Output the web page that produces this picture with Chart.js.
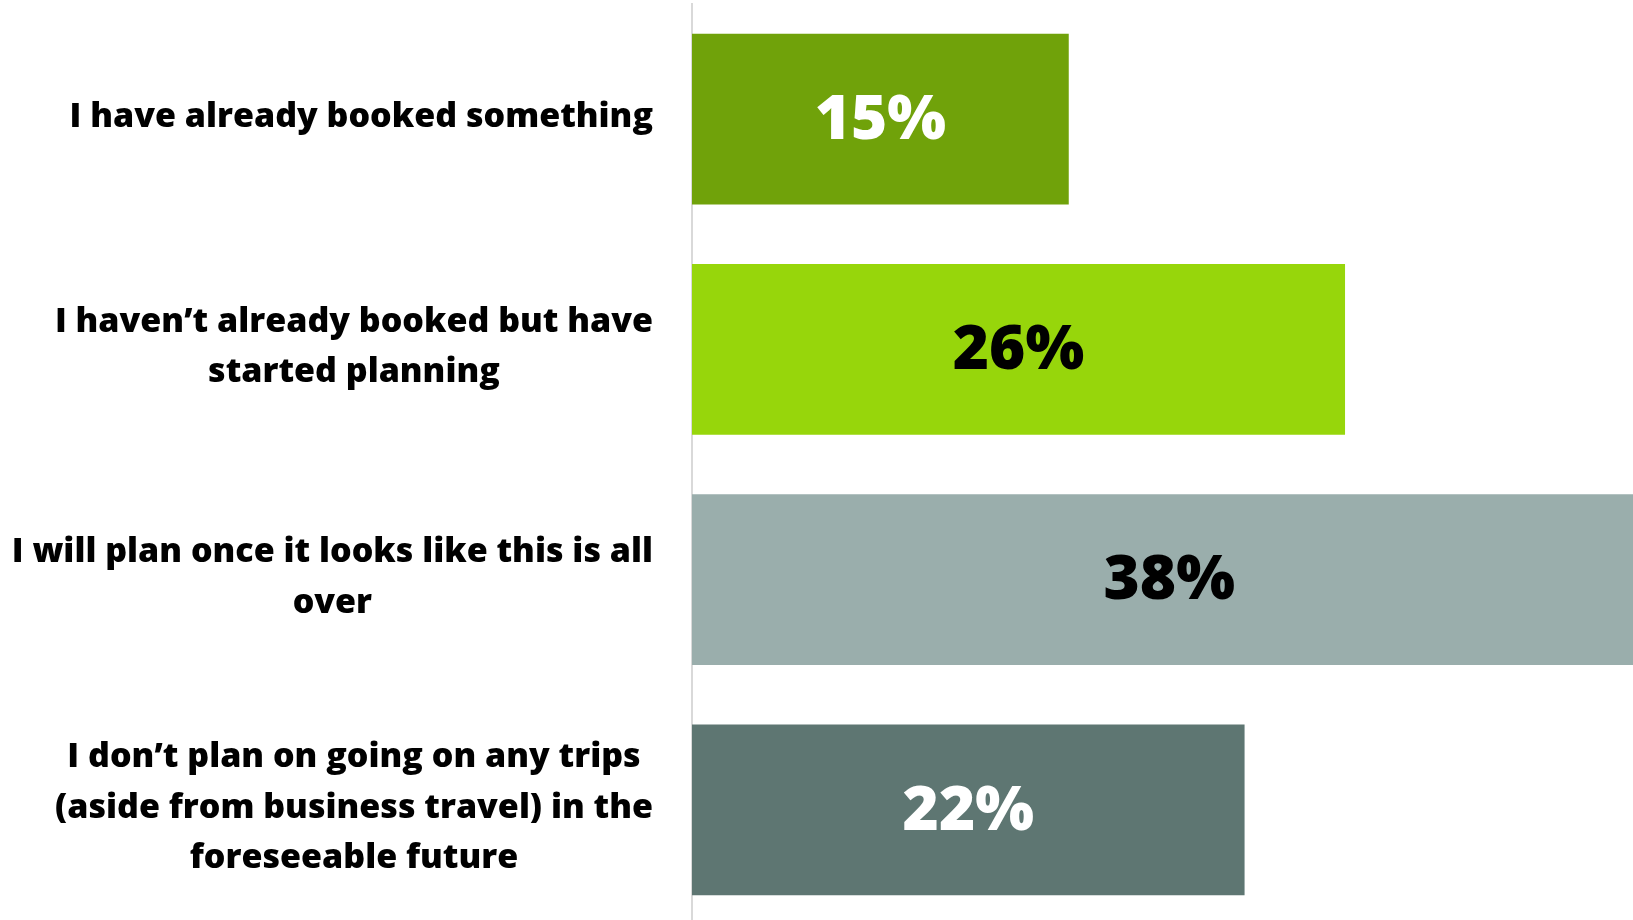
<!DOCTYPE html>
<html>
<head>
<meta charset="utf-8">
<script src="https://cdn.jsdelivr.net/npm/chart.js@4.4.1/dist/chart.umd.min.js"></script>
<style>
  html, body { margin: 0; padding: 0; background: #ffffff; overflow: hidden; width: 1633px; height: 920px; }
  #wrap { position: absolute; left: 0; top: 0; width: 1662px; height: 930px; }
</style>
</head>
<body>
<div id="wrap"><canvas id="c" width="1662" height="930"></canvas></div>
<script>
// ---- data ----
const categories = [
  ["I have already booked something"],
  ["I haven\u2019t already booked but have", "started planning"],
  ["I will plan once it looks like this is all", "over"],
  ["I don\u2019t plan on going on any trips", "(aside from business travel) in the", "foreseeable future"]
];
const values = [15, 26, 38, 22];
const valueLabels = ["15%", "26%", "38%", "22%"];

const barColors = ["#70a20a", "#97d60b", "#9aaeac", "#5e7672"];
const valueLabelColors = ["#ffffff", "#000000", "#000000", "#ffffff"];
const FONT = "'Open Sans', Lato, sans-serif";

const labelPlugin = {
  id: "customLabels",
  afterDatasetsDraw(chart) {
    const ctx = chart.ctx;
    const yScale = chart.scales.y;
    const meta = chart.getDatasetMeta(0);
    ctx.save();
    // category labels: block right-aligned, each line centered inside the block
    ctx.font = "800 34px " + FONT;
    ctx.fillStyle = "#000000";
    ctx.textAlign = "center";
    ctx.textBaseline = "middle";
    const rightEdge = 653;
    const lineH = 50.5;
    categories.forEach((lines, i) => {
      const cy = yScale.getPixelForValue(i) - 2;
      const maxW = Math.max(...lines.map(l => ctx.measureText(l).width));
      const cx = rightEdge - maxW / 2;
      const y0 = cy - (lines.length - 1) * lineH / 2;
      lines.forEach((l, k) => ctx.fillText(l, cx, y0 + k * lineH));
    });
    // value labels centered in bars
    ctx.font = "800 62px " + FONT;
    meta.data.forEach((bar, i) => {
      const p = bar.getProps(["x", "y", "base"], true);
      ctx.fillStyle = valueLabelColors[i];
      ctx.fillText(valueLabels[i], (p.x + p.base) / 2, p.y + 2);
    });
    ctx.restore();
  }
};

new Chart(document.getElementById("c"), {
  type: "bar",
  data: {
    labels: categories,
    datasets: [{
      data: values,
      backgroundColor: barColors,
      borderWidth: 0,
      barPercentage: 0.9,
      categoryPercentage: 0.8236
    }]
  },
  options: {
    indexAxis: "y",
    responsive: false,
    animation: false,
    events: [],
    layout: { padding: { top: 4, bottom: 5, left: 0, right: 3 } },
    plugins: { legend: { display: false }, tooltip: { enabled: false }, title: { display: false } },
    scales: {
      x: {
        display: false,
        min: 0,
        max: 38.5
      },
      y: {
        grid: { display: false },
        border: { display: true, color: "#d9d9d9", width: 2 },
        ticks: { display: false },
        afterFit(scale) { scale.width = 692; }
      }
    }
  },
  plugins: [labelPlugin]
});
</script>
</body>
</html>
